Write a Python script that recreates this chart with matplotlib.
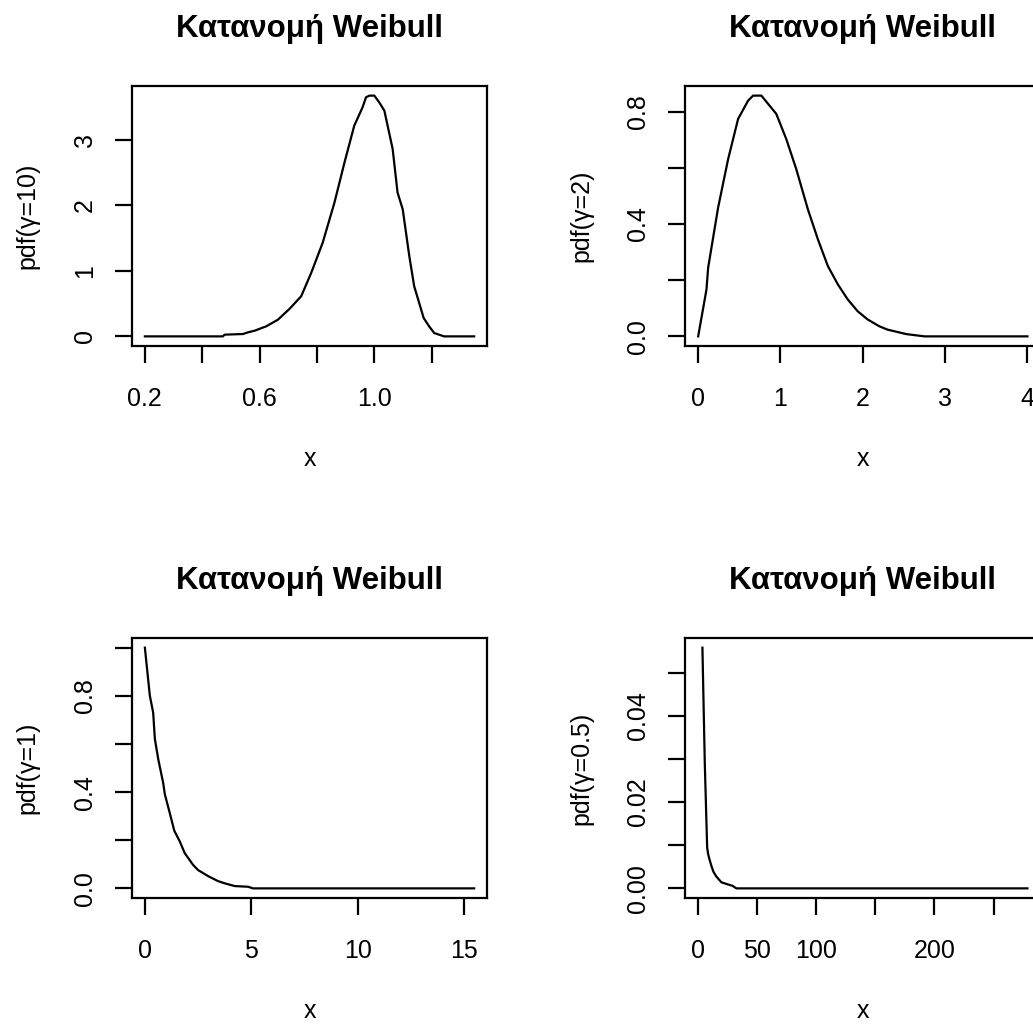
import matplotlib
matplotlib.use('Agg')
import matplotlib.pyplot as plt

plt.rcParams['font.family'] = ['Liberation Sans', 'DejaVu Sans']

# values
# panel 1: shape 10
p1_x = [0.200, 0.472, 0.478, 0.542, 0.559, 0.583, 0.623, 0.664, 0.704, 0.745, 0.780,
        0.820, 0.861, 0.896, 0.930, 0.959, 0.971, 0.983, 1.000, 1.017, 1.035, 1.064,
        1.081, 1.099, 1.122, 1.139, 1.172, 1.191, 1.209, 1.243, 1.348]
p1_y = [0.0, 0.0, 0.026, 0.036, 0.061, 0.087, 0.153, 0.255, 0.418, 0.612, 0.969,
        1.429, 2.041, 2.653, 3.214, 3.495, 3.648, 3.673, 3.673, 3.571, 3.444, 2.857,
        2.194, 1.939, 1.224, 0.765, 0.281, 0.153, 0.051, 0.0, 0.0]

# panel 2: shape 2
p2_x = [0.0, 0.101, 0.121, 0.242, 0.364, 0.485, 0.606, 0.667, 0.768, 0.949, 1.071,
        1.192, 1.333, 1.455, 1.576, 1.697, 1.818, 1.939, 2.06, 2.20, 2.30, 2.53, 2.75, 4.0]
p2_y = [0.0, 0.167, 0.244, 0.458, 0.631, 0.774, 0.839, 0.857, 0.857, 0.792, 0.702,
        0.595, 0.452, 0.345, 0.25, 0.185, 0.131, 0.089, 0.060, 0.036, 0.024, 0.008, 0.0, 0.0]

# panel 3: shape 1
p3_x = [0.0, 0.234, 0.39, 0.47, 0.63, 0.86, 0.94, 1.17, 1.38, 1.64, 1.875, 2.27,
        2.5, 2.97, 3.44, 3.75, 4.22, 4.85, 5.08, 15.47]
p3_y = [1.0, 0.80, 0.73, 0.62, 0.536, 0.438, 0.39, 0.313, 0.24, 0.195, 0.146, 0.097,
        0.076, 0.051, 0.030, 0.021, 0.0096, 0.0067, 0.0, 0.0]

# panel 4: shape 0.5
p4_x = [3.6, 5.6, 7.6, 8.4, 9.5, 11.2, 13.0, 15.5, 19.7, 25.3, 29.0, 32.3, 278.7]
p4_y = [0.0558, 0.029, 0.0095, 0.0080, 0.0068, 0.0052, 0.0038, 0.0027, 0.0014,
        0.0009, 0.0006, 0.0, 0.0]

titles = ['Κατανομή Weibull'] * 4
ylabels = ['pdf(γ=10)', 'pdf(γ=2)', 'pdf(γ=1)', 'pdf(γ=0.5)']

xticks = [[0.2, 0.4, 0.6, 0.8, 1.0, 1.2], [0, 1, 2, 3, 4], [0, 5, 10, 15],
          [0, 50, 100, 150, 200, 250]]
xticklabels = [['0.2', '', '0.6', '', '1.0', ''], ['0', '1', '2', '3', '4'],
               ['0', '5', '10', '15'], ['0', '50', '100', '', '200', '']]
yticks = [[0, 1, 2, 3], [0.0, 0.2, 0.4, 0.6, 0.8], [0.0, 0.2, 0.4, 0.6, 0.8, 1.0],
          [0.00, 0.01, 0.02, 0.03, 0.04, 0.05]]
yticklabels = [['0', '1', '2', '3'], ['0.0', '', '0.4', '', '0.8'],
               ['0.0', '', '0.4', '', '0.8', ''], ['0.00', '', '0.02', '', '0.04', '']]

W, H = 1033, 1025
fig = plt.figure(figsize=(W / 100, H / 100), dpi=100)

box_w, box_h = 355.6, 260.0
lefts = [131.7, 685.0, 131.7, 685.0]
tops = [86.0, 86.0, 638.0, 638.0]

data = [(p1_x, p1_y), (p2_x, p2_y), (p3_x, p3_y), (p4_x, p4_y)]

for i in range(4):
    ax = fig.add_axes([lefts[i] / W, 1 - (tops[i] + box_h) / H, box_w / W, box_h / H])
    x, y = data[i]
    ax.plot(x, y, color='black', linewidth=1.6)
    ax.margins(0.04)
    if i == 3:
        # R keeps x = 0 (infinite density) in the x range
        span = 278.7
        ax.set_xlim(-0.04 * span, span * 1.04)

    for s in ax.spines.values():
        s.set_linewidth(1.6)
    ax.set_xticks(xticks[i])
    ax.set_xticklabels(xticklabels[i])
    ax.set_yticks(yticks[i])
    ax.set_yticklabels(yticklabels[i])
    ax.tick_params(axis='both', direction='out', length=12, width=1.6, labelsize=18)
    ax.tick_params(axis='x', pad=17.5)
    ax.tick_params(axis='y', pad=13, labelrotation=90)
    for lab in ax.get_yticklabels():
        lab.set_va('center')

    ax.set_title(titles[i], fontsize=22.5, fontweight='bold', pad=35.5)
    ax.set_xlabel('x', fontsize=18, va='center')
    ax.xaxis.set_label_coords(0.5, -113 / box_h)
    ax.set_ylabel(ylabels[i], fontsize=18, va='center')
    ax.yaxis.set_label_coords(-104 / box_w, 0.5)

plt.savefig('out.png', dpi=100)
